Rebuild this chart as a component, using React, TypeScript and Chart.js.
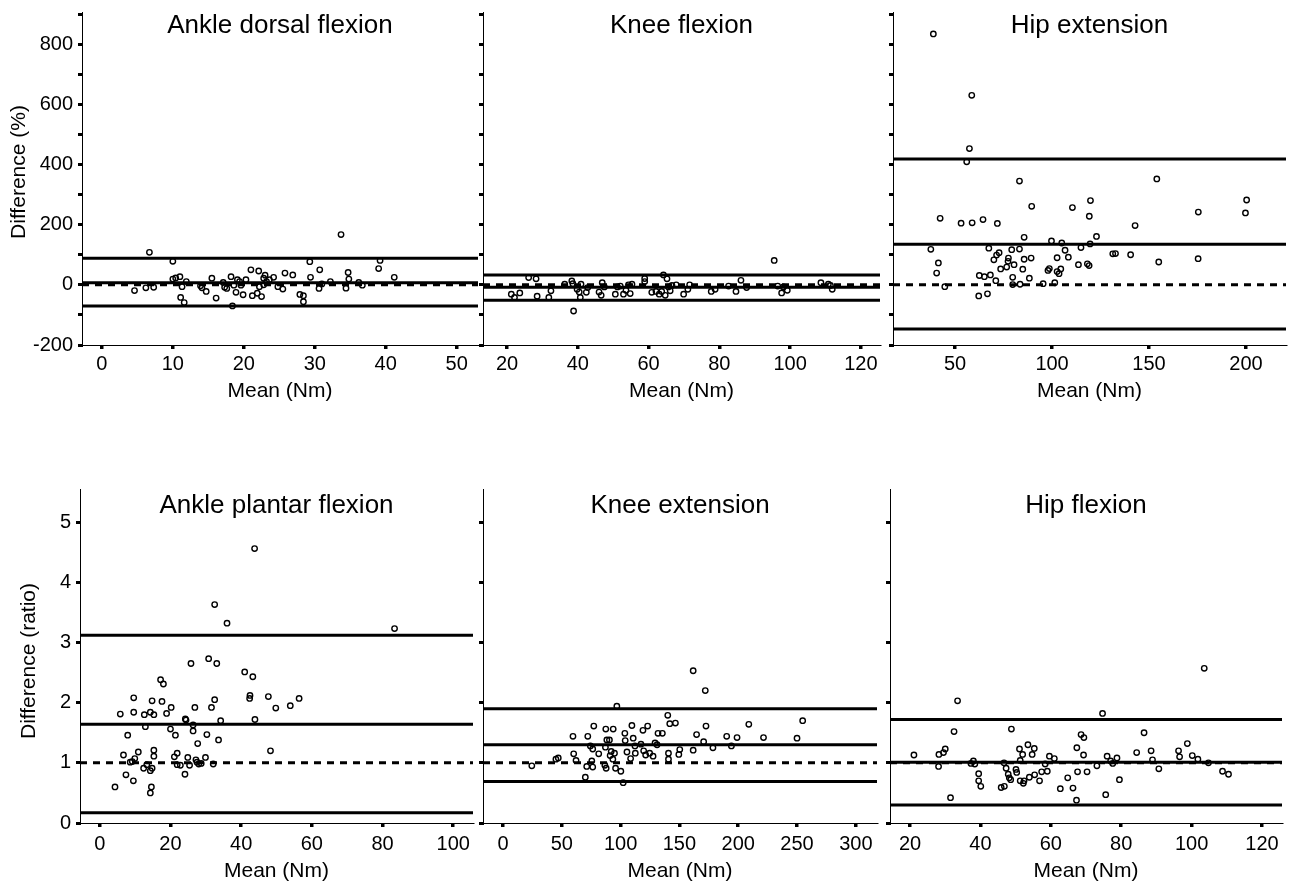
import React, { useEffect, useRef } from 'react';
import { Chart, registerables } from 'chart.js';

Chart.register(...registerables);

// ---------------- text ----------------
const PANEL_TITLES = ['Ankle dorsal flexion', 'Knee flexion', 'Hip extension', 'Ankle plantar flexion', 'Knee extension', 'Hip flexion'];
const X_TITLE = 'Mean (Nm)';
const Y_TITLE_TOP = 'Difference (%)';
const Y_TITLE_BOTTOM = 'Difference (ratio)';

// ---------------- tick values ----------------
const TOP_Y_TICKS = [-200, -100, 0, 100, 200, 300, 400, 500, 600, 700, 800, 900];
const BOTTOM_Y_TICKS = [0, 1, 2, 3, 4, 5];
const ADF_X_TICKS = [0, 10, 20, 30, 40, 50];
const KF_X_TICKS = [20, 40, 60, 80, 100, 120];
const HE_X_TICKS = [50, 100, 150, 200];
const APF_X_TICKS = [0, 20, 40, 60, 80, 100];
const KE_X_TICKS = [0, 50, 100, 150, 200, 250, 300];
const HF_X_TICKS = [20, 40, 60, 80, 100, 120];

// ---------------- data ----------------
// Ankle dorsal flexion
const adfMean = [6.7, 4.6, 6.2, 7.3, 10.0, 10.0, 10.4, 11.0, 11.1, 11.3, 11.6, 11.9, 13.9, 14.1, 14.7, 15.5, 16.1, 17.1, 17.3, 17.6, 18.2, 18.4, 18.6, 18.9, 19.1, 19.4, 19.6, 19.9, 20.3, 21.0, 21.2, 21.9, 22.1, 22.2, 22.5, 22.8, 23.0, 22.8, 23.2, 23.6, 24.2, 24.8, 25.5, 25.8, 26.9, 27.9, 28.4, 28.4, 29.3, 29.4, 30.7, 30.6, 31.0, 32.2, 33.7, 34.4, 34.7, 34.8, 36.2, 36.7, 39.0, 39.2, 41.2];
const adfDiff = [108, -19, -10, -8, 78, 19, 23, 27, -42, -6, -59, 11, -3, -10, -22, 22, -44, 8, -8, -12, 27, -70, -1, -25, 17, 11, -1, -33, 17, 50, -36, -28, 46, -6, -39, 22, 32, 0, 11, 17, 25, -6, -14, 39, 33, -32, -36, -56, 77, 25, 50, -12, 3, 11, 167, -11, 41, 19, 8, -1, 54, 81, 25];
const adfLimits = [88, 7, -70];
const adfRef = 0;

// Knee flexion
const kfMean = [21.2, 22.1, 23.6, 26.1, 28.2, 28.5, 31.8, 32.4, 36.3, 38.3, 38.6, 38.8, 39.8, 40.7, 40.9, 40.4, 42.4, 42.8, 46.0, 46.6, 46.9, 47.5, 50.6, 51.2, 52.0, 52.9, 53.6, 54.3, 54.8, 55.3, 58.9, 58.9, 60.9, 62.1, 63.0, 63.7, 64.2, 64.7, 65.2, 65.6, 66.1, 66.6, 67.8, 69.9, 71.1, 71.6, 77.7, 78.8, 82.6, 84.7, 86.1, 87.7, 95.5, 96.5, 97.6, 98.1, 99.2, 108.7, 110.8, 111.4, 111.9];
const kfDiff = [-31, -42, -27, 24, 20, -38, -42, -20, 2, 13, 4, -87, -15, -42, 2, -24, -25, -9, -24, -35, 7, -7, -31, -7, -4, -31, -18, 0, -29, 2, 21, 11, -25, -22, -31, -22, 33, -35, 20, -7, -20, -2, 0, -31, -15, 0, -22, -15, -4, -22, 15, -9, 81, -4, -27, -7, -18, 7, 2, -2, -15];
const kfLimits = [33, -8, -51];
const kfRef = 0;

// Hip extension
const heMean = [38.8, 58.6, 57.4, 56.0, 83.2, 154.0, 89.5, 110.5, 119.8, 119.2, 200.3, 199.7, 175.4, 42.3, 53.1, 58.8, 64.4, 71.8, 142.8, 85.6, 99.7, 105.0, 122.9, 119.6, 114.9, 106.7, 37.5, 67.4, 79.2, 83.2, 72.7, 71.4, 70.0, 77.5, 77.3, 73.5, 76.6, 80.4, 85.6, 89.2, 84.9, 102.6, 108.4, 113.6, 118.2, 119.1, 131.3, 132.7, 140.5, 155.0, 175.3, 41.4, 40.5, 44.7, 62.5, 65.1, 68.2, 62.2, 66.7, 71.0, 79.7, 79.7, 83.5, 88.3, 95.4, 97.9, 98.6, 101.4, 102.6, 103.6, 104.5];
const heDiff = [834, 630, 453, 409, 345, 352, 261, 257, 280, 228, 282, 239, 242, 221, 205, 206, 217, 204, 197, 158, 146, 139, 161, 136, 124, 115, 118, 122, 117, 119, 107, 99, 83, 89, 78, 53, 59, 67, 85, 89, 52, 90, 92, 67, 70, 64, 103, 104, 100, 76, 87, 73, 39, -6, 31, 27, 33, -37, -30, 14, 25, 1, 2, 22, 4, 48, 54, 7, 44, 37, 53];
const heLimits = [418, 135, -147];
const heRef = 0;

// Ankle plantar flexion
const apfMean = [4.3, 5.8, 6.7, 7.4, 7.9, 8.6, 9.2, 9.6, 9.6, 9.5, 9.9, 10.9, 12.4, 12.6, 12.9, 13.3, 14.3, 14.3, 14.3, 14.6, 14.8, 14.8, 15.3, 15.3, 15.3, 17.2, 18.0, 17.6, 18.9, 20.2, 20.0, 21.1, 21.4, 21.9, 21.9, 22.8, 24.1, 24.2, 24.4, 24.9, 25.4, 25.8, 26.4, 26.4, 26.9, 27.2, 27.5, 27.7, 28.0, 28.7, 29.9, 30.3, 30.8, 31.6, 32.1, 32.5, 32.5, 33.1, 33.6, 34.2, 36.0, 41.0, 42.4, 42.5, 43.3, 43.8, 43.9, 47.7, 48.3, 49.8, 53.9, 56.4, 83.4];
const apfDiff = [0.60, 1.81, 1.13, 0.80, 1.46, 1.01, 1.02, 2.08, 1.84, 0.70, 1.07, 1.18, 0.91, 1.80, 1.60, 0.97, 1.84, 0.87, 0.50, 0.60, 2.03, 0.91, 1.80, 1.21, 1.11, 2.38, 2.31, 2.02, 1.82, 1.92, 1.56, 1.10, 1.46, 1.16, 0.97, 0.96, 0.81, 1.73, 1.71, 1.09, 0.96, 2.65, 1.63, 1.53, 1.92, 1.05, 1.01, 1.32, 0.98, 0.99, 1.09, 1.47, 2.73, 1.92, 0.98, 3.63, 2.05, 2.65, 1.38, 1.70, 3.32, 2.51, 2.07, 2.12, 2.43, 4.56, 1.72, 2.10, 1.20, 1.91, 1.95, 2.07, 3.23];
const apfLimits = [3.12, 1.64, 0.17];
const apfRef = 1;

// Knee extension
const keMean = [24.5, 45.0, 47.0, 59.5, 60.1, 62.1, 70.0, 71.2, 72.1, 74.3, 75.5, 76.3, 76.3, 77.2, 81.4, 86.6, 87.7, 87.1, 87.4, 88.3, 90.5, 91.1, 92.0, 93.4, 93.7, 94.8, 95.7, 96.8, 100.2, 102.2, 103.6, 103.9, 105.4, 108.5, 109.6, 110.7, 112.2, 112.5, 117.3, 119.0, 119.6, 121.3, 123.0, 124.7, 127.6, 129.3, 131.0, 131.8, 135.5, 140.1, 140.7, 140.7, 141.8, 146.6, 149.5, 150.3, 161.7, 161.7, 164.6, 170.6, 172.0, 172.6, 178.5, 190.2, 194.2, 199.0, 209.0, 221.5, 250.0, 254.8];
const keDiff = [0.95, 1.06, 1.08, 1.44, 1.15, 1.04, 0.76, 0.94, 1.44, 1.28, 1.03, 0.93, 1.23, 1.61, 1.15, 0.96, 0.91, 1.26, 1.56, 1.38, 1.38, 1.12, 1.19, 1.06, 1.56, 1.16, 0.91, 1.94, 0.86, 0.67, 1.49, 1.37, 1.18, 1.07, 1.62, 1.41, 1.28, 1.16, 1.31, 1.54, 1.20, 1.13, 1.61, 1.16, 1.11, 1.33, 1.30, 1.49, 1.49, 1.79, 1.16, 1.06, 1.65, 1.66, 1.14, 1.22, 2.53, 1.21, 1.47, 1.35, 2.20, 1.61, 1.25, 1.44, 1.28, 1.42, 1.64, 1.42, 1.41, 1.70];
const keLimits = [1.90, 1.30, 0.69];
const keRef = 1;

// Hip flexion
const hfMean = [21.1, 28.1, 28.2, 29.5, 30.0, 31.5, 32.5, 33.5, 37.3, 38.0, 38.4, 39.5, 39.5, 40.1, 45.9, 46.8, 46.7, 47.3, 47.9, 48.2, 48.6, 48.8, 50.1, 50.3, 51.1, 51.3, 51.3, 52.0, 52.2, 52.4, 53.5, 53.9, 54.7, 55.3, 55.4, 56.8, 57.4, 58.4, 59.0, 59.6, 61.0, 62.7, 64.8, 66.3, 67.4, 67.6, 67.3, 68.6, 69.4, 69.3, 70.3, 73.1, 74.7, 75.6, 76.0, 77.0, 77.6, 78.8, 79.5, 84.4, 86.5, 88.5, 88.9, 90.7, 96.3, 96.6, 98.8, 100.2, 101.8, 103.6, 104.8, 108.8, 110.5];
const hfDiff = [1.13, 0.94, 1.14, 1.17, 1.23, 0.42, 1.52, 2.03, 0.99, 1.03, 0.98, 0.82, 0.70, 0.61, 0.59, 0.61, 1.00, 0.91, 0.81, 0.75, 0.72, 1.56, 0.89, 0.84, 1.23, 1.04, 0.70, 1.14, 0.66, 0.70, 1.30, 0.76, 1.14, 1.24, 0.80, 0.70, 0.85, 0.98, 0.86, 1.11, 1.07, 0.57, 0.75, 0.58, 1.25, 0.85, 0.38, 1.47, 1.42, 1.13, 0.85, 0.95, 1.82, 0.47, 1.11, 1.03, 0.99, 1.08, 0.72, 1.17, 1.50, 1.20, 1.05, 0.90, 1.20, 1.10, 1.32, 1.12, 1.06, 2.57, 1.00, 0.86, 0.81];
const hfLimits = [1.72, 1.01, 0.30];
const hfRef = 1;

// ---------------- layout / style ----------------
const W = 1292;
const H = 887;
const FONT = "'Liberation Sans', Arial, Helvetica, sans-serif";

type Panel = {
  title: string;
  mean: number[];
  diff: number[];
  limits: number[];
  ref: number;
  xTicks: number[];
  yTicks: number[];
  xMin: number;
  xMax: number;
  yMin: number;
  yMax: number;
  area: { l: number; r: number; t: number; b: number };
  yw: number;
  xh: number;
  yLabel: 'pct' | 'ratio' | 'none';
  yTitle: string;
  yTitleX: number;
  yTitleY: number;
  titleDy: number;
  tickPadX: number;
};

const PANELS: Panel[] = [
  { title: PANEL_TITLES[0], mean: adfMean, diff: adfDiff, limits: adfLimits, ref: adfRef, xTicks: ADF_X_TICKS, yTicks: TOP_Y_TICKS, xMin: -2.8, xMax: 53, yMin: -200, yMax: 907, area: { l: 82, r: 478, t: 12, b: 345 }, yw: 82, xh: 59, yLabel: 'pct', yTitle: Y_TITLE_TOP, yTitleX: 19, yTitleY: 172, titleDy: 21, tickPadX: 3 },
  { title: PANEL_TITLES[1], mean: kfMean, diff: kfDiff, limits: kfLimits, ref: kfRef, xTicks: KF_X_TICKS, yTicks: TOP_Y_TICKS, xMin: 13.2, xMax: 125.4, yMin: -200, yMax: 907, area: { l: 483, r: 880, t: 12, b: 345 }, yw: 10, xh: 59, yLabel: 'none', yTitle: '', yTitleX: 0, yTitleY: 0, titleDy: 21, tickPadX: 3 },
  { title: PANEL_TITLES[2], mean: heMean, diff: heDiff, limits: heLimits, ref: heRef, xTicks: HE_X_TICKS, yTicks: TOP_Y_TICKS, xMin: 18.0, xMax: 220.6, yMin: -200, yMax: 907, area: { l: 893, r: 1286, t: 12, b: 345 }, yw: 10, xh: 59, yLabel: 'none', yTitle: '', yTitleX: 0, yTitleY: 0, titleDy: 21, tickPadX: 3 },
  { title: PANEL_TITLES[3], mean: apfMean, diff: apfDiff, limits: apfLimits, ref: apfRef, xTicks: APF_X_TICKS, yTicks: BOTTOM_Y_TICKS, xMin: -5.6, xMax: 105.6, yMin: 0, yMax: 5.55, area: { l: 80, r: 473, t: 489, b: 823 }, yw: 80, xh: 61, yLabel: 'ratio', yTitle: Y_TITLE_BOTTOM, yTitleX: 29, yTitleY: 661, titleDy: 24, tickPadX: 5 },
  { title: PANEL_TITLES[4], mean: keMean, diff: keDiff, limits: keLimits, ref: keRef, xTicks: KE_X_TICKS, yTicks: BOTTOM_Y_TICKS, xMin: -17, xMax: 318, yMin: 0, yMax: 5.55, area: { l: 483, r: 877, t: 489, b: 823 }, yw: 10, xh: 61, yLabel: 'none', yTitle: '', yTitleX: 0, yTitleY: 0, titleDy: 24, tickPadX: 5 },
  { title: PANEL_TITLES[5], mean: hfMean, diff: hfDiff, limits: hfLimits, ref: hfRef, xTicks: HF_X_TICKS, yTicks: BOTTOM_Y_TICKS, xMin: 14.3, xMax: 125.7, yMin: 0, yMax: 5.55, area: { l: 890, r: 1282, t: 489, b: 823 }, yw: 10, xh: 61, yLabel: 'none', yTitle: '', yTitleX: 0, yTitleY: 0, titleDy: 24, tickPadX: 5 },
];

// panel title inside the plot area + rotated y-axis title
const panelTextPlugin = {
  id: 'panelText',
  afterDraw(chart: any, _args: any, opts: any) {
    const { ctx, chartArea } = chart;
    ctx.save();
    ctx.font = `26px ${FONT}`;
    ctx.fillStyle = '#000';
    ctx.textAlign = 'center';
    ctx.textBaseline = 'alphabetic';
    ctx.fillText(opts.text, (chartArea.left + chartArea.right) / 2, chartArea.top + opts.dy);
    if (opts.yTitle) {
      ctx.font = `21px ${FONT}`;
      ctx.textBaseline = 'middle';
      ctx.translate(opts.yTitleX, opts.yTitleY);
      ctx.rotate(-Math.PI / 2);
      ctx.fillText(opts.yTitle, 0, 0);
    }
    ctx.restore();
  },
};

function zeroPad(s: any) {
  s.paddingLeft = 0;
  s.paddingRight = 0;
  s.paddingTop = 0;
  s.paddingBottom = 0;
}

function makeConfig(p: Panel): any {
  const pts = p.mean.map((m, i) => ({ x: m, y: p.diff[i] }));
  const hline = (v: number) => [
    { x: p.xMin, y: v },
    { x: p.xMax, y: v },
  ];
  const lineDs = (v: number, dashed: boolean) => ({
    data: hline(v),
    showLine: true,
    borderColor: '#000',
    borderWidth: 3,
    borderDash: dashed ? [7, 6] : [],
    pointRadius: 0,
    fill: false,
  });
  const yCallback =
    p.yLabel === 'pct'
      ? (v: number) => (Math.round(v) % 200 === 0 ? String(v) : '')
      : p.yLabel === 'ratio'
      ? (v: number) => String(v)
      : () => '';
  return {
    type: 'scatter',
    data: {
      datasets: [
        {
          data: pts,
          pointStyle: 'circle',
          pointRadius: 2.7,
          pointBorderWidth: 1.4,
          pointBorderColor: '#000',
          pointBackgroundColor: 'rgba(255,255,255,0)',
          borderColor: '#000',
          backgroundColor: 'rgba(255,255,255,0)',
          showLine: false,
        },
        lineDs(p.limits[0], false),
        lineDs(p.limits[1], false),
        lineDs(p.limits[2], false),
        lineDs(p.ref, true),
      ],
    },
    options: {
      responsive: false,
      maintainAspectRatio: false,
      animation: false,
      events: [],
      layout: {
        padding: {
          left: p.area.l - p.yw,
          top: p.area.t,
          right: W - p.area.r,
          bottom: H - p.area.b - p.xh,
        },
      },
      plugins: {
        legend: { display: false },
        tooltip: { enabled: false },
        title: { display: false },
        panelText: { text: p.title, dy: p.titleDy, yTitle: p.yTitle, yTitleX: p.yTitleX, yTitleY: p.yTitleY },
      },
      scales: {
        x: {
          type: 'linear',
          position: 'bottom',
          min: p.xMin,
          max: p.xMax,
          bounds: 'data',
          afterBuildTicks: (s: any) => {
            s.ticks = p.xTicks.map((v) => ({ value: v }));
          },
          afterFit: (s: any) => {
            s.height = p.xh;
            zeroPad(s);
          },
          border: { display: true, color: '#000', width: 1 },
          grid: { drawOnChartArea: false, drawTicks: true, tickLength: 4, lineWidth: 3.5, color: '#000' },
          ticks: {
            color: '#000',
            font: { family: FONT, size: 20 },
            padding: p.tickPadX,
            autoSkip: false,
            maxRotation: 0,
            minRotation: 0,
            callback: (v: number) => String(v),
          },
          title: {
            display: true,
            text: X_TITLE,
            color: '#000',
            font: { family: FONT, size: 21 },
            padding: { top: 0, bottom: 0 },
          },
        },
        y: {
          type: 'linear',
          position: 'left',
          min: p.yMin,
          max: p.yMax,
          bounds: 'data',
          afterBuildTicks: (s: any) => {
            s.ticks = p.yTicks.map((v) => ({ value: v }));
          },
          afterFit: (s: any) => {
            s.width = p.yw;
            zeroPad(s);
          },
          border: { display: true, color: '#000', width: 1 },
          grid: { drawOnChartArea: false, drawTicks: true, tickLength: 4, lineWidth: 3, color: '#000' },
          ticks: {
            color: '#000',
            font: { family: FONT, size: 20 },
            padding: 5,
            autoSkip: false,
            callback: yCallback,
          },
          title: { display: false },
        },
      },
    },
    plugins: [panelTextPlugin],
  };
}

export default function App() {
  const refs = useRef<(HTMLCanvasElement | null)[]>([]);

  useEffect(() => {
    document.body.style.margin = '0';
    const charts = PANELS.map((p, i) => {
      const cv = refs.current[i]!;
      return new Chart(cv, makeConfig(p));
    });
    return () => charts.forEach((c) => c.destroy());
  }, []);

  return (
    <div style={{ position: 'absolute', left: 0, top: 0, width: W, height: H, background: '#fff', overflow: 'hidden' }}>
      {PANELS.map((p, i) => (
        <canvas
          key={p.title}
          ref={(el) => {
            refs.current[i] = el;
          }}
          width={W}
          height={H}
          style={{ position: 'absolute', left: 0, top: 0, width: W, height: H }}
        />
      ))}
    </div>
  );
}
